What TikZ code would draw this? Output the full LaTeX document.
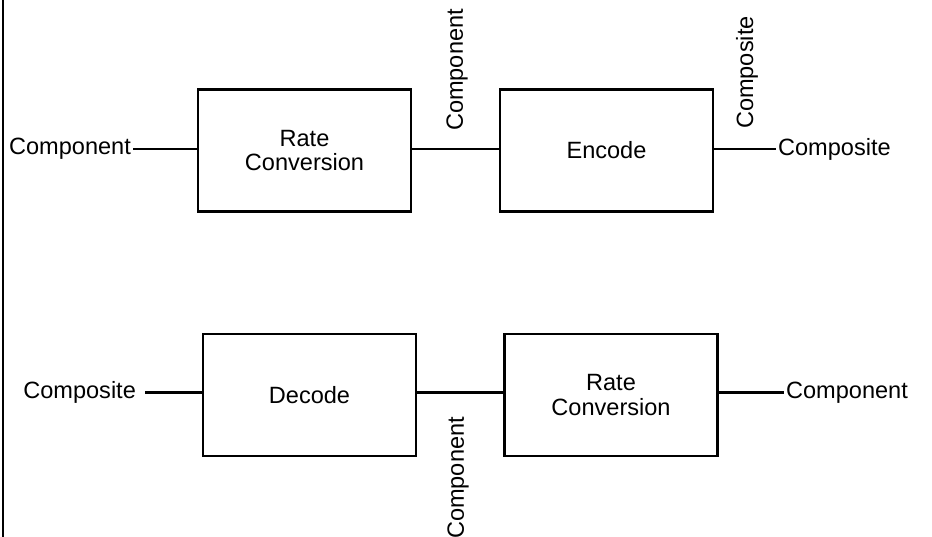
\documentclass[tikz,border=0pt]{standalone}
\usepackage{fontspec}
\setmainfont{Liberation Sans}
\tikzset{
  block/.style={draw, rectangle, line width=1.7pt, minimum width=4.26cm, minimum height=2.44cm, align=center},
  wire/.style={line width=1.4pt},
  tag/.style={inner sep=1pt}
}
\begin{document}
\begin{tikzpicture}[font=\fontsize{13.4}{14.2}\selectfont]
        \useasboundingbox (0,0) rectangle (18.64,10.74);

        % Left border
        \draw[line width=1.1pt] (0.06,0) -- (0.06,10.74);

        % Encoding chain
        \node[block] (rateA) at (6.09,7.73) {Rate\\Conversion};
        \node[block] (encode) at (12.13,7.73) {Encode};

        \node[tag, anchor=east] (compIn) at (2.66,7.76) {Component};
        \node[tag, anchor=west] (compOut) at (15.52,7.76) {Composite};
        \node[tag, anchor=west, rotate=90] (compMid) at (9.14,8.08) {Component};
        \node[tag, anchor=west, rotate=90] (compEnc) at (14.94,8.12) {Composite};

        \draw[wire] (compIn.east) -- (compIn.east -| rateA.west);
        \draw[wire] (rateA.east |- compIn.east) -- (encode.west |- compIn.east);
        \draw[wire] (encode.east |- compOut.west) -- (compOut.west);

        % Decoding chain
        \node[block] (decode) at (6.19,2.84) {Decode};
        \node[block] (rateB) at (12.22,2.84) {Rate\\Conversion};

        \node[tag, anchor=east] (compsIn) at (2.76,2.89) {Composite};
        \node[tag, anchor=west] (compsOut) at (15.68,2.89) {Component};
        \node[tag, anchor=east, rotate=90] (compDec) at (9.16,2.44) {Component};

        \draw[wire] ([xshift=4pt]compsIn.east) -- (compsIn.east -| decode.west);
        \draw[wire] (decode.east |- compsIn.east) -- (rateB.west |- compsIn.east);
        \draw[wire] (rateB.east |- compsOut.west) -- (compsOut.west);
    \end{tikzpicture}
\end{document}
